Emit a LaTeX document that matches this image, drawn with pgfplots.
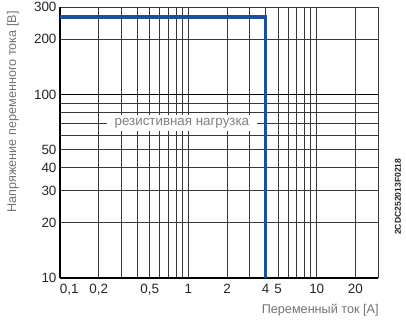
\documentclass[border=0pt]{standalone}
\usepackage{pgfplots}
\pgfplotsset{compat=1.18}
\usepackage{fontspec}
\setmainfont{Liberation Sans}
\definecolor{bl}{HTML}{1D4F9F}
\begin{document}
\begin{tikzpicture}
\begin{loglogaxis}[
  scale only axis, width=318bp, height=271bp,
  xmin=0.1, xmax=30, ymin=10, ymax=300,
  clip=false,
  axis lines=left, axis line style={black, line width=1.3bp, -},
  xtick={0.1,0.2,0.5,1,2,4,5,10,20},
  xticklabels={{\makebox[0pt][l]{0,1}},{0,2},{0,5},1,2,4,5,10,20},
  minor xtick={0.3,0.4,0.6,0.7,0.8,0.9,3,6,7,8,9,30},
  ytick={10,20,30,40,50,200,300},
  yticklabels={10,20,30,40,50,200,300},
  minor ytick={60,70,80,90},
  extra y ticks={100}, extra y tick labels={100},
  extra y tick style={grid=major, major grid style={black, line width=1.5bp}},
  grid=both,
  major grid style={black!78, line width=0.8bp},
  minor grid style={black!78, line width=0.8bp},
  major tick length=0pt, minor tick length=0pt,
  tick label style={font=\fontsize{13.5}{14}\selectfont, text=black!85},
  xticklabel style={yshift=-3bp},
  xlabel={Переменный ток [A]},
  ylabel={Напряжение переменного тока [В]},
  xlabel style={at={(axis description cs:1.013,-0.118)}, anchor=east, font=\fontsize{12.7}{13}\selectfont, text=black!55},
  ylabel style={at={(axis description cs:-0.148,0.613)}, anchor=center, font=\fontsize{12.7}{13}\selectfont, text=black!55},
]
\node[fill=white, inner xsep=8bp, inner ysep=3bp, text=black!50, font=\fontsize{13.4}{14}\selectfont] at (axis cs:0.89,70) {резистивная нагрузка};
\addplot[bl, line width=3.6bp, line join=miter] coordinates {(0.1,264) (4,264) (4,10)};
\node[rotate=90, font=\bfseries\fontsize{8.6}{9}\selectfont, text=black!85, anchor=center] at (axis description cs:1.063,0.30) {2CDC252013F0218};
\end{loglogaxis}
\pgfresetboundingbox
\path (-60bp,-44bp) rectangle (346bp,278bp);
\end{tikzpicture}
\end{document}
